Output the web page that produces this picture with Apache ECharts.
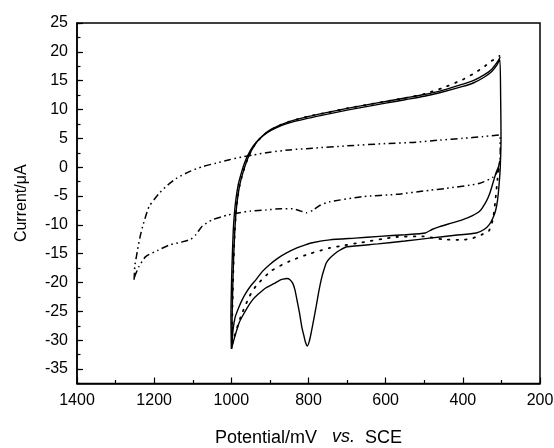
<!DOCTYPE html>
<html><head><meta charset="utf-8">
<script src="https://cdn.jsdelivr.net/npm/echarts@6/dist/echarts.min.js"></script>
<style>html,body{margin:0;padding:0;background:#fff}#c{width:554px;height:448px}</style>
</head><body><div id="c"></div>
<script>
// Tick labels
const xTickLabels = [200, 400, 600, 800, 1000, 1200, 1400];
const yTickLabels = [-35, -30, -25, -20, -15, -10, -5, 0, 5, 10, 15, 20, 25];

// Solid CV 1 (no reduction peak): lower branch 300 -> 1000, then upper branch 1000 -> 300
const solid1Lower = [[304,1.0],[308,0],[313,-0.8],[320,-2.3],[330,-4.5],[340,-6.0],[356,-7.6],[375,-8.4],[400,-9.1],[430,-9.7],[460,-10.3],[480,-10.8],[497,-11.4],[550,-11.7],[616,-12.0],[680,-12.3],[745,-12.6],[790,-13.1],[810,-13.5],[830,-14.0],[858,-14.9],[880,-15.8],[901,-16.9],[920,-18.1],[936,-19.5],[950,-20.6],[962,-21.8],[972,-23],[980,-24.2],[990,-26],[996,-28.5],[999,-31.5]];
const solid1Upper = [[999,-31.5],[998,-26],[996,-20],[994,-15.5],[991,-11],[988,-8],[984,-5.5],[978,-3],[971,-1.2],[963,0.5],[953,2.2],[940,3.8],[925,5.0],[905,6.2],[880,7.1],[850,7.9],[800,8.8],[750,9.5],[700,10.2],[650,10.8],[600,11.4],[550,12.0],[500,12.6],[460,13.2],[400,14.4],[373,15.0],[345,16.0],[325,17.0],[310,18.3],[303,19.1]];

// Solid CV 2 (with reduction peak near 800 mV): upper branch, drop at 300, lower branch with peak
const solid2Upper = [[1000,-31.5],[1001,-26],[999.5,-20],[997.5,-15.5],[995,-11],[992,-8],[988,-5.5],[982,-3],[975,-1.2],[967,0.5],[957,2.1],[944,3.6],[929,4.8],[909,5.9],[884,6.8],[854,7.6],[800,8.5],[750,9.2],[700,9.9],[650,10.5],[600,11.1],[550,11.7],[500,12.3],[460,12.9],[400,14.0],[373,14.6],[345,15.6],[325,16.6],[311,17.8],[304,18.7]];
const solid2Lower = [[304,18.7],[302,12],[301,5],[303,0],[306,-3],[310,-5.7],[315,-7.5],[322,-8.8],[332,-10.0],[345,-10.8],[365,-11.4],[420,-11.8],[486,-12.3],[550,-12.8],[620,-13.3],[700,-13.8],[719,-14.4],[732,-15.0],[745,-15.8],[754,-16.6],[761,-18],[767,-19.5],[774,-21.8],[780,-24.1],[787,-26.6],[793,-28.7],[798,-30.2],[803,-31.0],[808,-30.3],[812,-29.2],[817,-27.8],[823,-25.4],[829,-23.3],[835,-21.3],[841,-20.1],[848,-19.5],[856,-19.3],[866,-19.4],[875,-19.6],[890,-20.2],[910,-20.9],[930,-22],[945,-23],[960,-24.5],[971,-25.8],[980,-27],[988,-28.7],[995,-30.3],[1000,-31.5]];

// Dotted CV
const dottedLower = [[304,1],[310,-2],[316,-6],[322,-9],[332,-11],[351,-11.7],[374,-12.3],[399,-12.6],[451,-12.5],[503,-12.0],[572,-12.1],[676,-13.2],[719,-13.7],[745,-14.0],[797,-15.0],[849,-16.3],[897,-18.0],[936,-20.6],[953,-22.4],[975,-25.8],[992,-29.3],[999,-31]];
const dottedUpper = [[999,-31],[997,-24],[994,-16],[991,-11],[988,-8],[984,-5.5],[978,-3],[971,-1.2],[963,0.5],[953,2.2],[940,3.8],[925,5.0],[905,6.2],[880,7.1],[850,7.9],[800,8.8],[750,9.5],[700,10.2],[650,10.8],[600,11.4],[550,12.0],[500,12.7],[450,13.8],[400,15.2],[373,16.2],[347,17.3],[326,18.4],[305,19.3]];

// Dash-dot-dot CV (wide window 1250 -> 300 mV)
const dashDotUpper = [[1252,-19.5],[1250,-17],[1246,-15.5],[1243,-14.3],[1237,-12.2],[1230,-10.3],[1222,-8.5],[1213,-6.8],[1200,-5.6],[1187,-4.5],[1165,-3.1],[1144,-2.0],[1110,-0.8],[1075,0.1],[1040,0.7],[1005,1.3],[970,1.8],[945,2.1],[900,2.6],[850,3.0],[789,3.3],[700,3.7],[600,4.1],[529,4.3],[460,4.7],[400,5.0],[350,5.3],[304,5.6]];
const dashDotLower = [[304,5.6],[303,2],[308,-0.5],[321,-1.7],[356,-2.8],[447,-3.7],[486,-4.0],[572,-4.7],[659,-5.1],[745,-6.0],[770,-6.6],[789,-7.5],[806,-7.9],[825,-7.5],[841,-7.2],[870,-7.2],[910,-7.4],[950,-7.6],[979,-7.9],[1010,-8.3],[1049,-9.1],[1075,-10.2],[1092,-11.7],[1105,-12.5],[1130,-13],[1161,-13.5],[1190,-14.4],[1222,-15.5],[1240,-17.3],[1252,-19.2]];

const FONT = 'Liberation Sans, Arial, sans-serif';
const chart = echarts.init(document.getElementById('c'), null, {renderer: 'canvas'});

function lineSeries(data, style) {
  return {
    type: 'line', data: data, showSymbol: false, symbol: 'none', smooth: 0.2,
    animation: false, silent: true,
    lineStyle: Object.assign({color: '#000', width: 1.4}, style)
  };
}

const option = {
  backgroundColor: '#fff',
  animation: false,
  grid: {left: 77, right: 14, top: 23, bottom: 64.5, show: true, borderColor: '#000', borderWidth: 1.5,
    backgroundColor: 'transparent', containLabel: false, outerBoundsMode: 'none'},
  xAxis: {
    type: 'value', inverse: true, min: 200, max: 1400, interval: 200,
    axisLine: {show: true, onZero: false, lineStyle: {color: '#000', width: 1.5}},
    axisTick: {show: true, inside: true, length: 6, lineStyle: {color: '#000', width: 1.2}},
    minorTick: {show: true, splitNumber: 2, length: 3.5, lineStyle: {color: '#000', width: 1.2}},
    axisLabel: {color: '#000', fontSize: 16, fontFamily: FONT, margin: 9,
      customValues: xTickLabels, formatter: function (v) { return String(v); }},
    splitLine: {show: false},
    name: 'Potential/mV   {i|vs.}  SCE', nameLocation: 'middle', nameGap: 44,
    nameTextStyle: {color: '#000', fontSize: 18, fontFamily: FONT,
      rich: {i: {fontStyle: 'italic', fontSize: 18, fontFamily: FONT, color: '#000', padding: [0, 0, 3.5, 0]}}}
  },
  yAxis: [{
    type: 'value', min: -37.5, max: 25,
    axisLine: {show: true, onZero: false, lineStyle: {color: '#000', width: 1.5}},
    axisTick: {show: true, inside: true, length: 6, lineStyle: {color: '#000', width: 1.2}, customValues: yTickLabels},
    axisLabel: {color: '#000', fontSize: 16, fontFamily: FONT, margin: 9, customValues: yTickLabels,
      formatter: function (v) { return String(v); }},
    splitLine: {show: false},
    name: 'Current/\u03bcA', nameLocation: 'middle', nameGap: 47,
    nameTextStyle: {color: '#000', fontSize: 16, fontFamily: FONT}
  }, {
    type: 'value', min: -37.5, max: 25, interval: 2.5, position: 'left',
    axisLine: {show: false},
    axisTick: {show: true, inside: true, length: 3.5, lineStyle: {color: '#000', width: 1.2}},
    axisLabel: {show: false},
    splitLine: {show: false}
  }],
  series: [
    lineSeries(dottedLower.concat(dottedUpper), {type: [1.6, 7], width: 1.8, cap: 'round'}),
    lineSeries(dashDotUpper.concat(dashDotLower), {type: [7, 3.5, 1.6, 3.5, 1.6, 3.5], width: 1.5}),
    lineSeries(solid1Lower.concat(solid1Upper), {}),
    lineSeries(solid2Upper.concat(solid2Lower.slice(1)), {})
  ]
};
chart.setOption(option);
</script>
</body></html>
